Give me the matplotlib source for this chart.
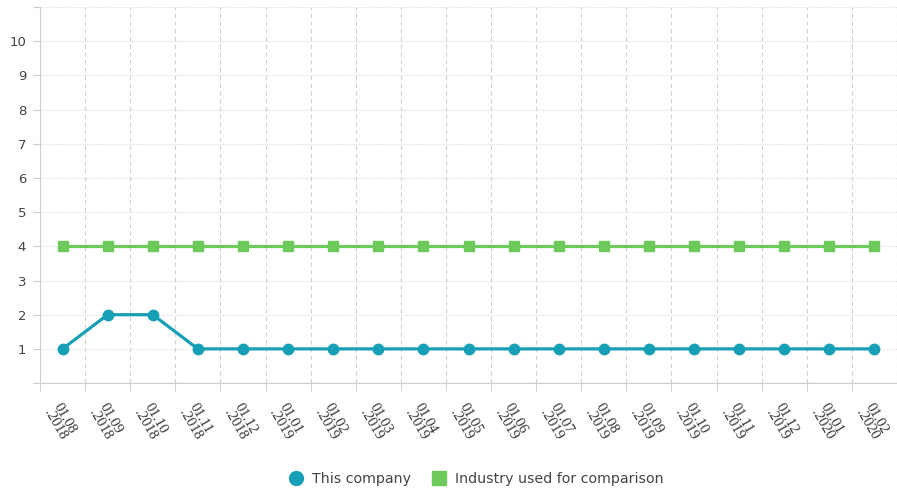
import matplotlib
matplotlib.use('Agg')
import matplotlib.pyplot as plt
from matplotlib.lines import Line2D

# данные
dates = ['01.08\n.2018', '01.09\n.2018', '01.10\n.2018', '01.11\n.2018', '01.12\n.2018',
         '01.01\n.2019', '01.02\n.2019', '01.03\n.2019', '01.04\n.2019', '01.05\n.2019',
         '01.06\n.2019', '01.07\n.2019', '01.08\n.2019', '01.09\n.2019', '01.10\n.2019',
         '01.11\n.2019', '01.12\n.2019', '01.01\n.2020', '01.02\n.2020']
company = [1, 2, 2, 1, 1, 1, 1, 1, 1, 1, 1, 1, 1, 1, 1, 1, 1, 1, 1]
industry = [4, 4, 4, 4, 4, 4, 4, 4, 4, 4, 4, 4, 4, 4, 4, 4, 4, 4, 4]

teal = '#179fb6'
green = '#6dca5a'

fig = plt.figure(figsize=(8.97, 4.88), dpi=100)
ax = fig.add_axes([0.0446, 0.215, 0.9554, 0.7707])

x = list(range(len(dates)))
ax.plot(x, industry, color=green, lw=2.3, marker='s', markersize=7, zorder=3)
ax.plot(x, company, color=teal, lw=2.3, marker='o', markersize=7.5, zorder=4)

ax.set_xlim(-0.5, 18.38)
ax.set_ylim(0, 11)

# ось y
ax.set_yticks(range(0, 12))
ax.set_yticklabels([''] + [str(i) for i in range(1, 11)] + [''])
ax.tick_params(axis='y', length=5, color='#cccccc', labelsize=9.5, labelcolor='#444444', pad=5)

# ось x
ax.set_xticks(x)
ax.set_xticklabels(dates, rotation=-60, ha='left', va='top', rotation_mode='anchor',
                   family='Liberation Serif', fontsize=10.5, color='#333333', linespacing=0.85)
ax.tick_params(axis='x', which='major', length=0, pad=13)
ax.set_xticks([i - 0.5 for i in range(len(dates) + 1)], minor=True)
ax.tick_params(axis='x', which='minor', length=6, color='#cccccc')

# сетка
ax.grid(axis='x', which='minor', color='#d0d0d0', linestyle=(0, (4, 3)), lw=0.8)
ax.grid(axis='y', which='major', color='#e0e0e0', linestyle=(0, (1, 1)), lw=0.8)
ax.grid(axis='x', which='major', visible=False)

for s in ['top', 'right']:
    ax.spines[s].set_visible(False)
ax.spines['left'].set_color('#cccccc')
ax.spines['bottom'].set_color('#cccccc')

handles = [Line2D([], [], color=teal, marker='o', linestyle='none', markersize=10),
           Line2D([], [], color=green, marker='s', linestyle='none', markersize=10)]
fig.legend(handles, ['This company', 'Industry used for comparison'], loc='center',
           bbox_to_anchor=(0.527, 0.018), ncol=2, frameon=False, fontsize=10.2,
           handletextpad=0.1, columnspacing=1.0, labelcolor='#444444')

fig.savefig('out.png', dpi=100)
